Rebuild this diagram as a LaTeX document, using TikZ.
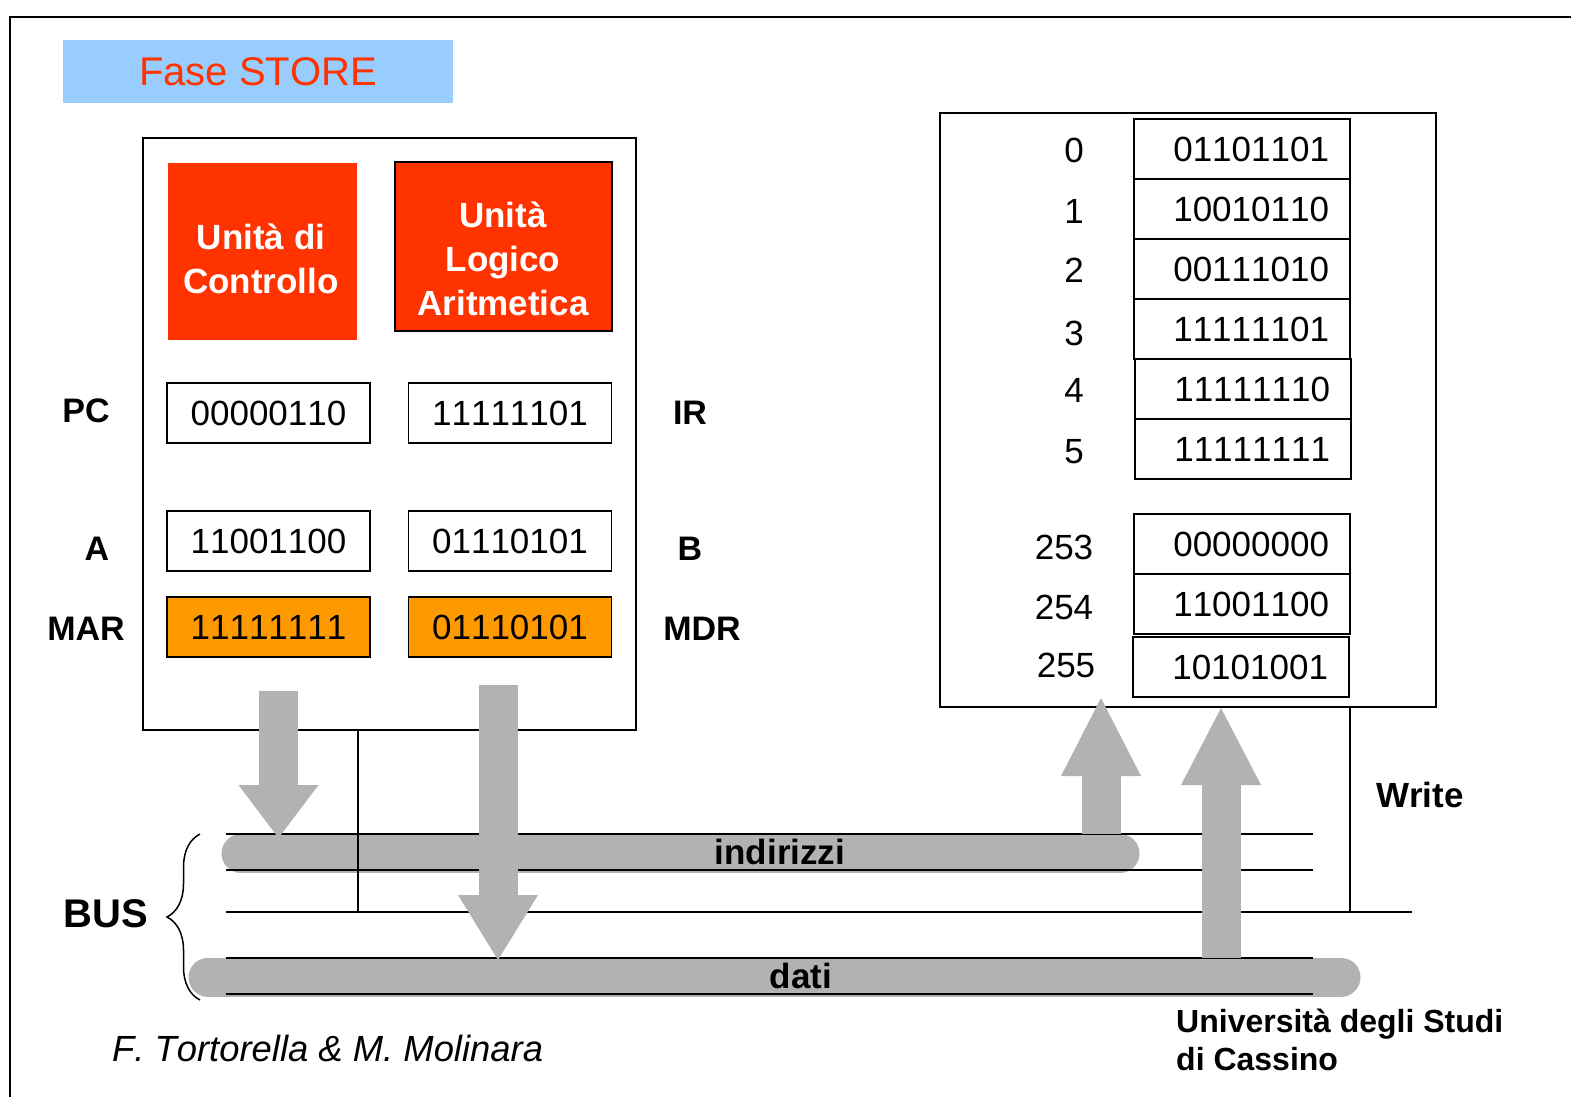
\documentclass[tikz,border=0pt]{standalone}
\usepackage{fontspec}
\setmainfont[Kerning=Off]{Liberation Sans}
\usetikzlibrary{arrows.meta,decorations.pathreplacing}
\definecolor{titleblue}{HTML}{99CCFF}
\definecolor{unitred}{HTML}{FF3300}
\definecolor{regorange}{HTML}{FF9900}
\definecolor{busgray}{HTML}{B2B2B2}
\newcommand{\cellfont}{\fontsize{35}{44}\selectfont}
\newcommand{\namefont}{\fontsize{34}{40}\selectfont\bfseries}
\begin{document}
\begin{tikzpicture}[x=1pt, y=-1pt,
        every node/.style={font=\cellfont},
        unit/.style={fill=unitred, inner sep=0pt},
        unittext/.style={text=white, font=\cellfont\bfseries, align=center, inner sep=0pt},
        reg/.style={draw, line width=1.5pt, minimum width=203pt, minimum height=60pt, inner sep=0pt},
        regname/.style={font=\namefont, inner sep=0pt},
        cell/.style={draw, line width=1.5pt, minimum width=216pt, minimum height=60pt, inner sep=0pt, text width=174pt, align=right},
        addr/.style={inner sep=0pt},
        busline/.style={line width=2pt},
        busbar/.style={line width=39pt, busgray, line cap=round},
        bigarrow/.style={line width=39pt, busgray, -{Triangle[length=#1, width=80pt, line width=0pt]}},
        busname/.style={font=\cellfont\bfseries, inner sep=0pt}
    ]
        \useasboundingbox (0,0) rectangle (1571,1097);
        \draw[line width=2pt] (10,1097) -- (10,17) -- (1571,17);

        % Title
        \node[fill=titleblue, text=unitred, font=\fontsize{40}{48}\selectfont, minimum width=390pt, minimum height=63pt, inner sep=0pt] (title) at (258,71.5) {Fase STORE};

        % CPU
        \node[draw, line width=1.5pt, minimum width=493pt, minimum height=592pt] (cpu) at (389.5,434) {};
        \node[unit, minimum width=189pt, minimum height=177pt] (cu) at (262.5,251.5) {};
        \node[unittext] at (261,259) {Unità di\\Controllo};
        \node[unit, draw, line width=1.5pt, minimum width=217pt, minimum height=169pt] (alu) at (503.5,246.5) {};
        \node[unittext] at (503,259) {Unità\\Logico\\Aritmetica};

        \node[reg] (pc) at (268.5,413) {00000110};
        \node[reg] (ir) at (510,413) {11111101};
        \node[reg] (rega) at (268.5,541) {11001100};
        \node[reg] (regb) at (510,541) {01110101};
        \node[reg, fill=regorange] (mar) at (268.5,627) {11111111};
        \node[reg, fill=regorange] (mdr) at (510,627) {01110101};
        \node[regname] at (86,411) {PC};
        \node[regname] at (690,413) {IR};
        \node[regname] at (97,549) {A};
        \node[regname] at (690,549) {B};
        \node[regname] at (86,629) {MAR};
        \node[regname] at (702,629) {MDR};

        % Memoria
        \node[draw, line width=1.5pt, minimum width=496pt, minimum height=594pt] (mem) at (1188,410) {};
        \node[cell] (cell0) at (1242,149) {01101101};
        \node[cell] (cell1) at (1242,209) {10010110};
        \node[cell] (cell2) at (1242,269) {00111010};
        \node[cell] (cell3) at (1242,329) {11111101};
        \node[cell] (cell4) at (1243,389) {11111110};
        \node[cell] (cell5) at (1243,449) {11111111};
        \node[cell] (cell253) at (1242,544) {00000000};
        \node[cell] (cell254) at (1242,604) {11001100};
        \node[cell] (cell255) at (1241,667) {10101001};
        \node[addr] (addr0) at (1074,150) {0};
        \node[addr] (addr1) at (1074,211) {1};
        \node[addr] (addr2) at (1074,270) {2};
        \node[addr] (addr3) at (1074,333) {3};
        \node[addr] (addr4) at (1074,390) {4};
        \node[addr] (addr5) at (1074,452) {5};
        \node[addr] (addr253) at (1064,547) {253};
        \node[addr] (addr254) at (1064,607) {254};
        \node[addr] (addr255) at (1066,665) {255};

        % Bus
        \draw[busbar] (241,853.5) -- (1120,853.5);
        \draw[busbar] (208,977) -- (1341,977);
        \draw[busline] (226,834) -- (1313,834);
        \draw[busline] (226,870) -- (1313,870);
        \draw[busline] (226,912) -- (1412,912);
        \draw[busline] (226,958) -- (1313,958);
        \draw[busline] (226,994) -- (1313,994);
        \coordinate (ctrl) at (358,912);
        \coordinate (wr) at (1350,912);
        \draw[line width=1.5pt] (cpu.south -| ctrl) -- (ctrl);
        \draw[line width=1.5pt] (mem.south -| wr) -- (wr);
        \node[busname] (indirizzi) at (780,852) {indirizzi};
        \node[busname] (dati) at (801,976) {dati};
        \draw[line width=1.5pt, decorate, decoration={brace, amplitude=33pt}] (200,1000) -- (200,834);
        \node[font=\fontsize{40}{48}\selectfont\bfseries, inner sep=0pt] (bus) at (106,914) {BUS};
        \node[busname] (write) at (1420,795) {Write};

        % Frecce
        \coordinate (marout) at (278.5,691);
        \coordinate (marin) at (278.5,838);
        \coordinate (mdrout) at (498,685);
        \coordinate (mdrin) at (498,960);
        \coordinate (addrout) at (1101,834);
        \coordinate (addrin) at (1101,698);
        \coordinate (datiout) at (1221,958);
        \coordinate (datiin) at (1221,708);
        \draw[bigarrow=53pt] (marout) -- (marin);
        \draw[bigarrow=65pt] (mdrout) -- (mdrin);
        \draw[bigarrow=78pt] (addrout) -- (addrin);
        \draw[bigarrow=77pt] (datiout) -- (datiin);

        % Autori
        \node[font=\fontsize{36.4}{44}\selectfont\itshape, anchor=west, inner sep=0pt] (autori) at (112,1048) {F. Tortorella \& M. Molinara};
        \node[font=\fontsize{32}{38}\selectfont\bfseries, align=left, anchor=north west, inner sep=0pt] (uni) at (1176,1009) {Università degli Studi\\di Cassino};
    \end{tikzpicture}
\end{document}
